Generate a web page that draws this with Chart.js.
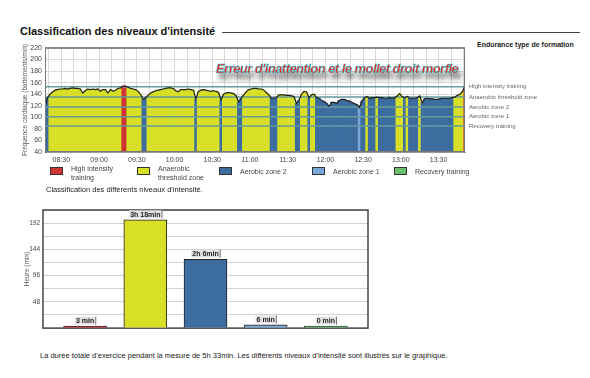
<!DOCTYPE html>
<html>
<head>
<meta charset="utf-8">
<script src="https://cdn.jsdelivr.net/npm/chart.js@4.4.1/dist/chart.umd.min.js"></script>
<style>
    body {
        margin: 0;
        width: 590px;
        height: 378px;
        background: #fff;
        position: relative;
        overflow: hidden;
        font-family: Arial, "Liberation Sans", sans-serif;
    }
    .abs { position: absolute; white-space: nowrap; }
    .legend-box { position: absolute; width: 11px; height: 6px; border: 1px solid #333; }
    .legend-text { position: absolute; font-size: 7px; line-height: 9px; color: #444; white-space: pre; }
    .annot {
        left: 216px; top: 61px;
        font-size: 13px; font-style: italic; font-weight: bold;
        color: #ff1c1c;
        -webkit-text-stroke: 0.4px #16e0e8;
        text-shadow: 3px 6px 5px rgba(0, 0, 0, 0.75);
        letter-spacing: -0.55px;
    }
</style>
</head>
<body>
<div class="abs" style="left:20px; top:25px; font-size:11px; font-weight:bold; color:#111;">Classification des niveaux d'intensité</div>
<div class="abs" style="left:222px; top:32px; width:358px; border-top:1px solid #444;"></div>
<div class="abs" style="left:477px; top:41px; font-size:7px; font-weight:bold; color:#222;">Endurance type de formation</div>

<div class="abs" style="left:0; top:40px; width:590px; height:130px;"><canvas id="hrChart"></canvas></div>
<div class="abs annot">Erreur d'inattention et le mollet droit morfle</div>
<div id="legend"></div>

<div class="abs" style="left:46px; top:185px; font-size:7.5px; color:#222;">Classification des différents niveaux d'intensité.</div>
<div class="abs" style="left:0; top:200px; width:380px; height:135px;"><canvas id="zoneChart"></canvas></div>
<div class="abs" style="left:40px; top:351px; font-size:7.5px; color:#222;">La durée totale d'exercice pendant la mesure de 5h 33min. Les différents niveaux d'intensité sont illustrés sur le graphique.</div>

<script>
// heart rate sampled every 2 minutes, starting at 08:17
const startMinute = 8 * 60 + 17;
const endMinute = 13 * 60 + 51;
const stepMinutes = 2;
const heartRate = [
    118, 134, 140, 144, 147, 148, 149, 149, 150, 149,
    150, 151, 150, 150, 149, 142, 146, 149, 148, 149,
    148, 149, 145, 148, 148, 142, 148, 145, 147, 150,
    151, 154, 154, 152, 150, 149, 148, 145, 140, 131,
    134, 138, 142, 144, 146, 147, 148, 149, 150, 151,
    151, 150, 146, 144, 148, 148, 148, 149, 148, 147,
    132, 145, 147, 148, 147, 146, 145, 146, 145, 143,
    130, 140, 142, 143, 142, 141, 137, 127, 133, 139,
    144, 148, 149, 150, 150, 149, 149, 147, 143, 139,
    133, 133, 134, 139, 139, 139, 138, 138, 137, 136,
    124, 130, 140, 145, 144, 134, 139, 140, 134, 133,
    129, 127, 124, 119, 126, 126, 124, 129, 131, 131,
    129, 128, 126, 124, 122, 117, 128, 134, 136, 133,
    134, 134, 135, 134, 134, 133, 133, 134, 133, 134,
    137, 141, 136, 134, 136, 133, 133, 133, 134, 137,
    125, 132, 133, 132, 132, 131, 131, 132, 133, 133,
    133, 133, 134, 135, 138, 140, 145, 154
];

const zoneNames = ['High intensity training', 'Anaerobic threshold zone', 'Aerobic zone 2', 'Aerobic zone 1', 'Recovery training'];
const legendLines = ['High intensity\ntraining', 'Anaerobic\nthreshold zone', 'Aerobic zone 2', 'Aerobic zone 1', 'Recovery training'];
const zoneLimits = [153, 135, 118, 101, 85];
const zoneColors = ['#cf3434', '#d7df26', '#3c6d9e', '#7ba6d8', '#6cbf6e'];
const zoneMinutes = [3, 198, 126, 6, 0];
const zoneMinuteLabels = ['3 min', '3h 18min', '2h 6min', '6 min', '0 min'];

const FONT = 'Arial, "Liberation Sans", sans-serif';

function fmtTime(m) {
    const h = Math.floor(m / 60);
    const mm = m % 60;
    return String(h).padStart(2, '0') + ':' + String(mm).padStart(2, '0');
}

function zoneOf(v) {
    for (let i = 0; i < zoneLimits.length; i++) {
        if (v >= zoneLimits[i]) return i;
    }
    return zoneLimits.length - 1;
}

// legend under the heart rate chart
const legendLeft = [50, 137, 219, 312, 394];
const legendEl = document.getElementById('legend');
zoneNames.forEach((name, i) => {
    const box = document.createElement('div');
    box.className = 'legend-box';
    box.style.left = legendLeft[i] + 'px';
    box.style.top = '167px';
    box.style.background = zoneColors[i];
    legendEl.appendChild(box);
    const txt = document.createElement('div');
    txt.className = 'legend-text';
    txt.style.left = (legendLeft[i] + 21) + 'px';
    txt.style.top = legendLines[i].includes('\n') ? '164px' : '167px';
    txt.textContent = legendLines[i];
    legendEl.appendChild(txt);
});

const hrPoints = heartRate.map((v, i) => ({ x: startMinute + i * stepMinutes, y: v }));

const zonePlugin = {
    id: 'zoneLines',
    afterDatasetDraw(chart, args) {
        if (args.index !== 1) return;
        const { ctx, chartArea: a, scales: { y } } = chart;
        ctx.save();
        ctx.strokeStyle = '#679b9c';
        ctx.lineWidth = 1.5;
        zoneLimits.forEach(v => {
            const py = y.getPixelForValue(v);
            ctx.beginPath();
            ctx.moveTo(a.left, py);
            ctx.lineTo(a.right, py);
            ctx.stroke();
        });
        ctx.restore();
    },
    afterDraw(chart) {
        const { ctx, chartArea: a, scales: { y } } = chart;
        ctx.save();
        ctx.strokeStyle = '#777';
        ctx.lineWidth = 1;
        ctx.strokeRect(a.left + 0.5, a.top + 0.5, a.right - a.left - 1, a.bottom - a.top - 1);
        ctx.strokeStyle = '#8a8a8a';
        ctx.lineWidth = 2;
        ctx.beginPath();
        ctx.moveTo(a.left, a.top);
        ctx.lineTo(a.right, a.top);
        ctx.stroke();
        ctx.font = '6px ' + FONT;
        ctx.fillStyle = '#666';
        ctx.textBaseline = 'middle';
        zoneNames.forEach((name, i) => {
            ctx.fillText(name, a.right + 4, y.getPixelForValue(zoneLimits[i]));
        });
        ctx.restore();
    }
};

new Chart(document.getElementById('hrChart'), {
    type: 'bar',
    data: {
        datasets: [{
            type: 'line',
            data: hrPoints,
            borderColor: '#1e1e1e',
            borderWidth: 1.2,
            pointRadius: 0,
            tension: 0,
            order: 0
        }, {
            type: 'bar',
            data: hrPoints,
            base: 40,
            clip: 0,
            backgroundColor: hrPoints.map(p => zoneColors[zoneOf(p.y)]),
            borderWidth: 0,
            barPercentage: 1,
            categoryPercentage: 1,
            order: 1
        }]
    },
    options: {
        animation: false,
        responsive: true,
        maintainAspectRatio: false,
        layout: { padding: { top: 8, right: 125, left: 0, bottom: 0 } },
        plugins: { legend: { display: false }, tooltip: { enabled: false } },
        scales: {
            x: {
                type: 'linear',
                offset: false,
                min: startMinute,
                max: endMinute,
                afterFit: s => { s.height = 18; },
                grid: { color: '#d9d9d9', drawTicks: false, offset: false },
                border: { color: '#999' },
                ticks: {
                    stepSize: 10,
                    includeBounds: false,
                    autoSkip: false,
                    maxRotation: 0,
                    padding: 4,
                    font: { size: 7, family: FONT },
                    color: '#444',
                    callback: v => v % 30 === 0 ? fmtTime(v) : ''
                }
            },
            y: {
                min: 40,
                max: 220,
                afterFit: s => { s.width = 45; },
                grid: { color: '#d9d9d9', drawTicks: false },
                border: { color: '#555' },
                ticks: {
                    stepSize: 10,
                    padding: 3,
                    font: { size: 7, family: FONT },
                    color: '#444',
                    callback: v => v % 20 === 0 ? String(v) : ''
                },
                title: {
                    display: true,
                    text: 'Fréquence cardiaque (battements/min)',
                    font: { size: 6.5, family: FONT },
                    color: '#555',
                    padding: { top: 21, bottom: 0 }
                }
            }
        }
    },
    plugins: [zonePlugin]
});

const barLabelPlugin = {
    id: 'barLabels',
    beforeDatasetsDraw(chart) {
        const { ctx, chartArea: a } = chart;
        ctx.save();
        ctx.strokeStyle = '#444';
        ctx.lineWidth = 1.5;
        ctx.strokeRect(a.left, a.top, a.right - a.left, a.bottom - a.top);
        ctx.restore();
    },
    afterDatasetsDraw(chart) {
        const { ctx } = chart;
        const meta = chart.getDatasetMeta(0);
        ctx.save();
        ctx.font = 'bold 7px ' + FONT;
        ctx.textAlign = 'center';
        ctx.textBaseline = 'bottom';
        meta.data.forEach((bar, i) => {
            const text = zoneMinuteLabels[i];
            const w = ctx.measureText(text).width;
            const yb = bar.y - 1.5;
            ctx.fillStyle = '#e3e3e3';
            ctx.fillRect(bar.x - w / 2 - 1, yb - 8, w + 2, 8);
            ctx.fillStyle = '#777';
            ctx.fillRect(bar.x + w / 2 + 1, yb - 8, 1, 8);
            ctx.fillStyle = '#222';
            ctx.fillText(text, bar.x, yb);
        });
        ctx.restore();
    }
};

new Chart(document.getElementById('zoneChart'), {
    type: 'bar',
    data: {
        datasets: [{
            data: zoneMinutes.map((v, i) => ({ x: i, y: v })),
            backgroundColor: zoneColors,
            borderColor: '#222',
            borderWidth: 1,
            borderSkipped: 'bottom',
            minBarLength: 2,
            barThickness: 43
        }]
    },
    options: {
        animation: false,
        responsive: true,
        maintainAspectRatio: false,
        layout: { padding: { top: 10, right: 12, left: 0, bottom: 6 } },
        plugins: { legend: { display: false }, tooltip: { enabled: false } },
        scales: {
            x: {
                type: 'linear',
                offset: false,
                min: -0.7,
                max: 4.7,
                display: false
            },
            y: {
                min: 0,
                max: 216,
                afterFit: s => { s.width = 43; },
                grid: { color: '#d2d2d2', drawTicks: false },
                border: { display: false },
                ticks: {
                    stepSize: 24,
                    padding: 3,
                    font: { size: 6.5, family: FONT },
                    color: '#444',
                    callback: v => (v > 0 && v % 48 === 0) ? String(v) : ''
                },
                title: {
                    display: true,
                    text: 'Heure (min)',
                    font: { size: 6.5, family: FONT },
                    color: '#555',
                    padding: { top: 23, bottom: 0 }
                }
            }
        }
    },
    plugins: [barLabelPlugin]
});
</script>
</body>
</html>
